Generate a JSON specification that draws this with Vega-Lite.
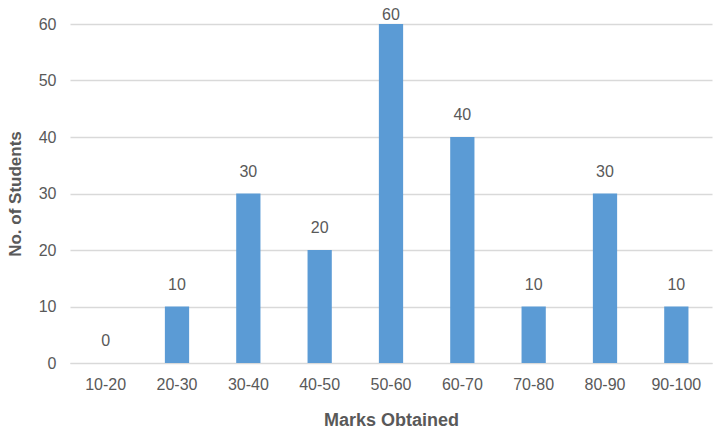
{
  "$schema": "https://vega.github.io/schema/vega-lite/v6.json",
  "width": 642,
  "height": 339,
  "autosize": "none",
  "padding": {"left": 70, "top": 24, "right": 1, "bottom": 67},
  "background": "white",
  "config": {
    "view": {"stroke": null},
    "font": "Liberation Sans"
  },
  "data": {
    "values": [
      {"marks": "10-20", "students": 0},
      {"marks": "20-30", "students": 10},
      {"marks": "30-40", "students": 30},
      {"marks": "40-50", "students": 20},
      {"marks": "50-60", "students": 60},
      {"marks": "60-70", "students": 40},
      {"marks": "70-80", "students": 10},
      {"marks": "80-90", "students": 30},
      {"marks": "90-100", "students": 10}
    ]
  },
  "encoding": {
    "x": {
      "field": "marks",
      "type": "nominal",
      "sort": null,
      "scale": {"paddingInner": 0.66, "paddingOuter": 0.33},
      "axis": {
        "title": "Marks Obtained",
        "labelAngle": 0,
        "labelFont": "Liberation Sans",
        "labelFontSize": 16,
        "labelColor": "#595959",
        "labelPadding": 13,
        "ticks": false,
        "domainColor": "#d9d9d9",
        "titleFont": "Liberation Sans",
        "titleFontSize": 18,
        "titleFontWeight": "bold",
        "titleColor": "#595959",
        "titlePadding": 19
      }
    }
  },
  "layer": [
    {
      "mark": {"type": "bar", "color": "#5B9BD5"},
      "encoding": {
        "y": {
          "field": "students",
          "type": "quantitative",
          "scale": {"domain": [0, 60], "nice": false},
          "axis": {
            "title": "No. of Students",
            "values": [0, 10, 20, 30, 40, 50, 60],
            "domain": false,
            "ticks": false,
            "gridColor": "#d9d9d9",
            "gridWidth": 1.5,
            "labelFont": "Liberation Sans",
            "labelFontSize": 16,
            "labelColor": "#595959",
            "labelPadding": 14,
            "titleFont": "Liberation Sans",
            "titleFontSize": 17,
            "titleFontWeight": "bold",
            "titleColor": "#595959",
            "titlePadding": 14
          }
        }
      }
    },
    {
      "transform": [{"calculate": "min(datum.students, 57.7)", "as": "labelPos"}],
      "mark": {"type": "text", "font": "Liberation Sans", "fontSize": 16, "color": "#595959", "baseline": "middle", "dy": -22},
      "encoding": {
        "y": {"field": "labelPos", "type": "quantitative"},
        "text": {"field": "students", "type": "quantitative"}
      }
    }
  ]
}
